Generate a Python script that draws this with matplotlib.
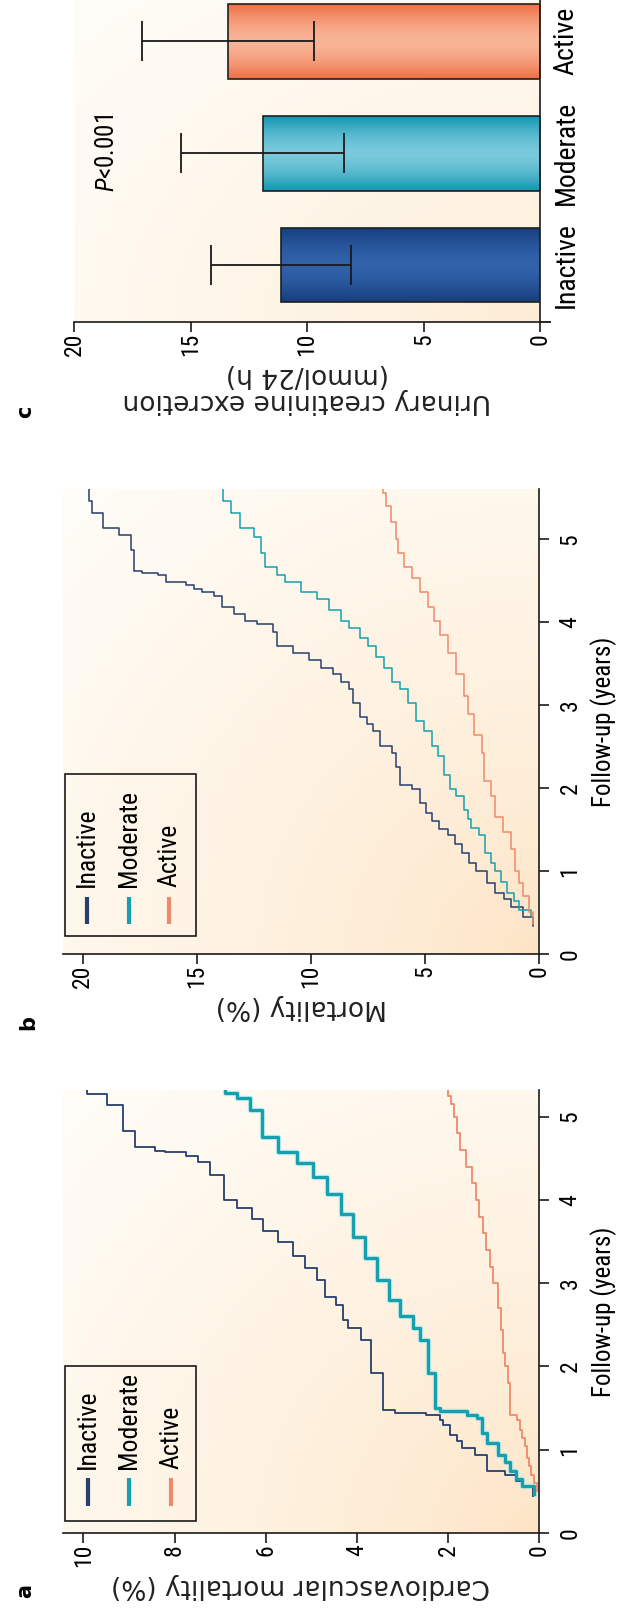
import numpy as np
import matplotlib
matplotlib.use("Agg")
import matplotlib.pyplot as plt
from matplotlib import font_manager
from matplotlib.colors import to_rgb
from matplotlib.patches import Rectangle

# ---- panel a: cardiovascular mortality (%) vs follow-up (years) ----
a_inactive_t = [0.45, 0.55, 0.62, 0.70, 0.74, 0.94, 1.02, 1.10, 1.18, 1.30, 1.36, 1.42, 1.44, 1.48,
                1.92, 2.32, 2.46, 2.56, 2.74, 2.84, 3.04, 3.18, 3.33, 3.49, 3.63, 3.77, 3.90, 4.00,
                4.30, 4.45, 4.53, 4.57, 4.59, 4.63, 4.83, 5.14, 5.27, 5.32]
a_inactive_m = [0.13, 0.35, 0.50, 0.75, 1.15, 1.41, 1.70, 1.80, 1.96, 2.10, 2.18, 2.47, 3.16, 3.42,
                3.68, 3.90, 4.19, 4.30, 4.45, 4.69, 4.87, 5.13, 5.39, 5.74, 6.05, 6.31, 6.62, 6.92,
                7.22, 7.49, 7.75, 8.20, 8.44, 8.88, 9.14, 9.49, 9.93, 9.93]
a_moderate_t = [0.47, 0.56, 0.65, 0.74, 0.85, 0.94, 1.08, 1.20, 1.38, 1.42, 1.46, 1.50, 1.92, 2.32,
                2.46, 2.60, 2.80, 3.04, 3.30, 3.55, 3.83, 4.07, 4.28, 4.44, 4.57, 4.75, 5.08, 5.22,
                5.28, 5.32]
a_moderate_m = [0.11, 0.38, 0.50, 0.64, 0.75, 0.89, 1.15, 1.25, 1.37, 1.59, 2.18, 2.29, 2.43, 2.62,
                2.76, 3.05, 3.30, 3.56, 3.82, 4.08, 4.34, 4.65, 4.96, 5.31, 5.74, 6.09, 6.35, 6.62,
                6.90, 6.90]
a_active_t = [0.50, 0.60, 0.70, 0.80, 0.90, 1.04, 1.14, 1.24, 1.36, 1.42, 1.80, 2.00, 2.16, 2.44,
              2.70, 3.00, 3.20, 3.40, 3.60, 3.80, 4.00, 4.20, 4.40, 4.60, 4.80, 5.00, 5.15, 5.25, 5.32]
a_active_m = [0.05, 0.12, 0.17, 0.22, 0.26, 0.31, 0.37, 0.42, 0.49, 0.64, 0.68, 0.74, 0.78, 0.84,
              0.90, 1.00, 1.08, 1.17, 1.24, 1.31, 1.38, 1.48, 1.60, 1.73, 1.80, 1.86, 1.93, 2.00, 2.00]

# ---- panel b: mortality (%) vs follow-up (years) ----
b_inactive_t = [0.34, 0.45, 0.57, 0.66, 0.74, 0.86, 1.00, 1.10, 1.22, 1.32, 1.43, 1.50, 1.60, 1.70,
                1.82, 1.99, 2.03, 2.25, 2.42, 2.50, 2.68, 2.77, 2.85, 3.02, 3.19, 3.28, 3.37, 3.45,
                3.54, 3.62, 3.71, 3.88, 3.97, 4.01, 4.10, 4.18, 4.31, 4.36, 4.40, 4.44, 4.48, 4.57,
                4.59, 4.61, 4.86, 5.05, 5.13, 5.31, 5.45, 5.60]
b_inactive_m = [0.26, 0.70, 1.22, 1.55, 1.91, 2.30, 2.78, 3.05, 3.39, 3.70, 4.00, 4.40, 4.70, 4.95,
                5.22, 5.57, 6.09, 6.26, 6.43, 6.96, 7.30, 7.55, 7.83, 8.17, 8.35, 8.70, 9.04, 9.57,
                10.09, 10.78, 11.48, 11.65, 12.35, 12.87, 13.39, 13.91, 14.26, 14.78, 15.13, 15.48,
                16.35, 16.70, 17.39, 17.74, 17.90, 18.40, 19.10, 19.60, 19.75, 19.75]
b_moderate_t = [0.44, 0.53, 0.64, 0.74, 0.87, 1.00, 1.10, 1.22, 1.43, 1.52, 1.62, 1.73, 1.90, 1.99,
                2.16, 2.38, 2.51, 2.68, 2.81, 3.02, 3.19, 3.28, 3.45, 3.58, 3.71, 3.80, 3.93, 4.01,
                4.14, 4.27, 4.36, 4.48, 4.57, 4.66, 4.83, 5.02, 5.13, 5.31, 5.45, 5.60]
b_moderate_m = [0.35, 0.87, 1.10, 1.39, 1.65, 1.91, 2.10, 2.35, 2.61, 2.96, 3.10, 3.30, 3.65, 3.91,
                4.17, 4.43, 4.70, 5.04, 5.39, 5.74, 6.09, 6.43, 6.78, 7.13, 7.48, 7.83, 8.35, 8.70,
                9.22, 9.74, 10.43, 11.13, 11.48, 12.00, 12.20, 12.50, 13.10, 13.50, 13.85, 13.85]
b_active_t = [0.36, 0.50, 0.70, 0.85, 1.00, 1.26, 1.47, 1.65, 1.90, 2.08, 2.42, 2.64, 2.89, 3.11,
              3.37, 3.62, 3.84, 4.01, 4.18, 4.36, 4.53, 4.66, 4.83, 5.00, 5.20, 5.40, 5.55, 5.60]
b_active_m = [0.26, 0.45, 0.70, 0.88, 1.04, 1.22, 1.57, 1.91, 2.09, 2.43, 2.52, 2.87, 3.13, 3.30,
              3.65, 4.00, 4.35, 4.61, 4.87, 5.22, 5.57, 5.91, 6.17, 6.26, 6.50, 6.70, 6.85, 6.85]

# ---- panel c: urinary creatinine excretion ----
c_groups = ["Inactive", "Moderate", "Active"]
c_mean = [11.1, 11.9, 13.4]
c_sd = [3.0, 3.5, 3.7]

groups = ["Inactive", "Moderate", "Active"]
INACTIVE = "#263f6d"
MODERATE = "#179fae"
ACTIVE = "#ee8a6c"
line_colors = [INACTIVE, MODERATE, ACTIVE]

names = {f.name for f in font_manager.fontManager.ttflist}
NARROW = "Liberation Sans"
for cand in ["Liberation Sans Narrow", "Roboto Condensed", "Open Sans Condensed"]:
    if cand in names:
        NARROW = cand
        break
WIDE = "DejaVu Sans"

plt.rcParams["mathtext.fontset"] = "custom"
plt.rcParams["mathtext.rm"] = NARROW
plt.rcParams["mathtext.it"] = NARROW + ":italic"

fig = plt.figure(figsize=(6.22, 16.12), dpi=100)


def add_background(ax, peach="#fde3c3"):
    yy, xx = np.mgrid[0:1:200j, 0:1:200j]
    d = np.sqrt((1 - xx) ** 2 + yy ** 2) / np.sqrt(2)
    w = np.clip(d, 0, 1) ** 0.7
    p = np.array(to_rgb(peach))
    white = np.array(to_rgb("#fffdf8"))
    img = p * (1 - w)[..., None] + white * w[..., None]
    ax.imshow(img, extent=(0, 1, 0, 1), transform=ax.transAxes, origin="lower",
              aspect="auto", zorder=0, interpolation="bilinear")


def style_axes(ax, xticks, xlabel):
    for s in ["top", "left"]:
        ax.spines[s].set_visible(False)
    for s in ["right", "bottom"]:
        ax.spines[s].set_linewidth(1.2)
        ax.spines[s].set_color("#1a1a1a")
    ax.yaxis.tick_right()
    ax.set_xticks(xticks, labels=[str(v) for v in xticks], rotation=90,
                  fontsize=17, family=NARROW)
    ax.tick_params(direction="out", length=7, width=1.2, color="#1a1a1a")
    ax.tick_params(axis="x", pad=1)
    ax.set_xlabel(xlabel, rotation=180, fontsize=19, family=WIDE, labelpad=4,
                  color="#222222", linespacing=1.0)


def km_panel(ax, series, widths, xmax, ymax, xticks, xlabel, legend_box, hx, hy, ty):
    add_background(ax)
    for (t, m), col, lw in zip(series, line_colors, widths):
        if lw > 2:
            ax.step(m, t, where="pre", color="#8be6f0", lw=lw + 1.6, alpha=0.55, zorder=2.9)
        ax.step(m, t, where="pre", color=col, lw=lw, zorder=3)
    style_axes(ax, xticks, xlabel)
    ax.set_yticks(range(6), labels=[str(v) for v in range(6)], rotation=90,
                  va="center", fontsize=17, family=NARROW)
    ax.tick_params(axis="y", pad=7)
    ax.yaxis.set_label_position("right")
    ax.set_ylabel("Follow-up (years)", fontsize=18, family=NARROW, labelpad=6)
    ax.set_xlim(xmax, 0)
    ax.set_ylim(0, ymax)
    # legend drawn by hand so that it follows the rotated layout
    x0, y0, x1, y1 = legend_box
    ax.add_patch(Rectangle((x0, y0), x1 - x0, y1 - y0, transform=ax.transAxes,
                           fill=False, ec="#1a1a1a", lw=1.2, zorder=5))
    for x, name, col in zip(hx, groups, line_colors):
        ax.plot([x, x], hy, transform=ax.transAxes, color=col, lw=3,
                solid_capstyle="butt", zorder=6)
        ax.text(x, ty, name, transform=ax.transAxes, rotation=90, rotation_mode="anchor",
                ha="left", va="center", fontsize=18.5, family=NARROW, zorder=6)


# panel a
ax_a = fig.add_axes([63 / 622, 79 / 1612, 476 / 622, 443 / 1612])
km_panel(ax_a,
         [(a_inactive_t, a_inactive_m), (a_moderate_t, a_moderate_m), (a_active_t, a_active_m)],
         [1.3, 2.3, 1.3], 10.45, 5.32, [0, 2, 4, 6, 8, 10],
         "Cardiovascular mortality (%)",
         (0.004, 0.027, 0.279, 0.377), [0.053, 0.139, 0.227], (0.060, 0.125), 0.145)

# panel b
ax_b = fig.add_axes([63 / 622, 658 / 1612, 476 / 622, 465 / 1612])
km_panel(ax_b,
         [(b_inactive_t, b_inactive_m), (b_moderate_t, b_moderate_m), (b_active_t, b_active_m)],
         [1.1, 1.1, 1.1], 20.87, 5.6, [0, 5, 10, 15, 20],
         "Mortality (%)",
         (0.004, 0.039, 0.279, 0.387), [0.050, 0.139, 0.223], (0.065, 0.123), 0.145)

# panel c
ax_c = fig.add_axes([74 / 622, 1290 / 1612, 466 / 622, 322 / 1612])
add_background(ax_c, peach="#fdebd3")
pos = np.arange(len(c_groups))
bars = ax_c.barh(pos, c_mean, height=0.67, color="none", edgecolor="#1f1f1f",
                 lw=1.2, zorder=3)
bar_grad = [("#163e7c", "#3162aa"), ("#1396b2", "#79cadc"), ("#ee7046", "#f9b497")]
s = np.linspace(0, 1, 64)
prof = 1 - np.abs(2 * s - 1) ** 1.6
for bar, (dark, light) in zip(bars, bar_grad):
    d, l = np.array(to_rgb(dark)), np.array(to_rgb(light))
    img = (d + (l - d) * prof[:, None])[:, None, :]
    x0, y0 = bar.get_x(), bar.get_y()
    im = ax_c.imshow(img, extent=(x0, x0 + bar.get_width(), y0, y0 + bar.get_height()),
                     origin="lower", aspect="auto", zorder=2, interpolation="bilinear")
    im.set_clip_path(bar)
ax_c.errorbar(c_mean, pos, xerr=c_sd, fmt="none", ecolor="#1a1a1a", elinewidth=1.3,
              capsize=14.5, capthick=1.3, zorder=4)
style_axes(ax_c, [0, 5, 10, 15, 20], "Urinary creatinine excretion\n(mmol/24 h)")
ax_c.set_yticks(pos, labels=c_groups, rotation=90, va="center", fontsize=20, family=NARROW)
ax_c.set_yticks([-0.51], minor=True)
ax_c.tick_params(axis="y", which="major", length=0, pad=9)
ax_c.tick_params(axis="y", which="minor", length=8, width=1.2, direction="out")
ax_c.text(18.6, 1.0, r"$P$<0.001", rotation=90, ha="center", va="center",
          fontsize=18, family=NARROW)
ax_c.set_xlim(20, 0)
ax_c.set_ylim(-0.51, 2.37)

# panel letters
for letter, (px, py) in zip("abc", [(25, 1591), (28, 1022), (25, 412)]):
    fig.text(px / 622, 1 - py / 1612, letter, rotation=90, fontweight="bold",
             fontsize=15, ha="center", va="center")

fig.savefig("out.png", dpi=100)
